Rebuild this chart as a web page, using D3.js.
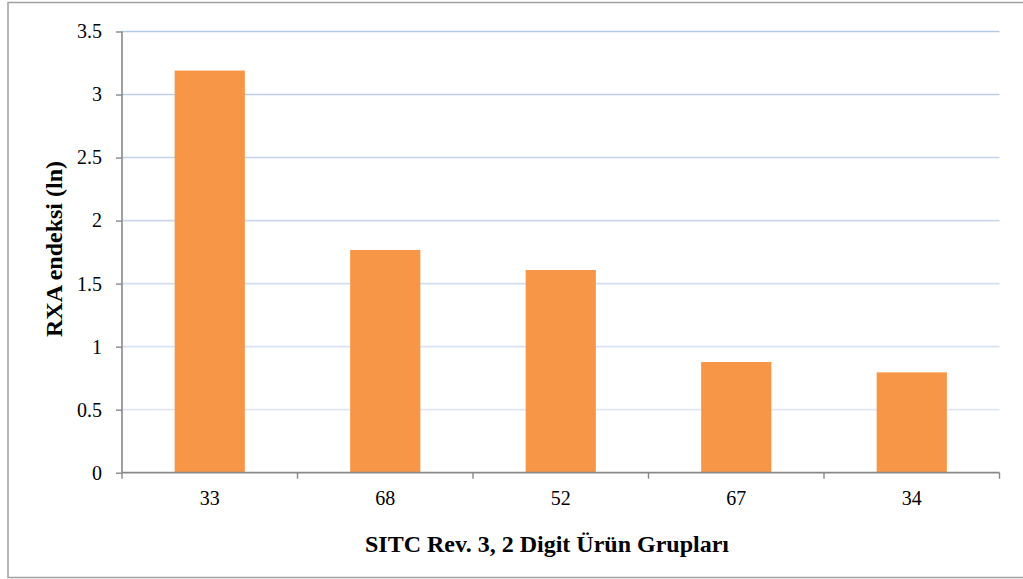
<!DOCTYPE html>
<html>
<head>
<meta charset="utf-8">
<script src="https://cdn.jsdelivr.net/npm/d3@7"></script>
<style>
  html, body { margin: 0; padding: 0; background: #fff; }
  svg { display: block; }
  text { font-family: "Liberation Serif", "Times New Roman", serif; fill: #000; }
</style>
</head>
<body>
<script>
const categories = ["33", "68", "52", "67", "34"];
const values = [3.19, 1.767, 1.608, 0.878, 0.796];
const yTicks = [0, 0.5, 1, 1.5, 2, 2.5, 3, 3.5];
const yTickLabels = ["0", "0.5", "1", "1.5", "2", "2.5", "3", "3.5"];
const xTitle = "SITC Rev. 3, 2 Digit Ürün Grupları";
const yTitle = "RXA endeksi (ln)";

const W = 1023, H = 579;
const svg = d3.select("body").append("svg").attr("width", W).attr("height", H);

// outer border
svg.append("rect").attr("x", 8).attr("y", 2.5).attr("width", 1030).attr("height", 575)
  .attr("fill", "none").attr("stroke", "#a0a0a0").attr("stroke-width", 1.5);

const x0 = 122, x1 = 999.5, yBot = 472.7, yTop = 31.5;
const x = d3.scaleBand().domain(categories).range([x0, x1]).paddingInner(0.6).paddingOuter(0.3);
const y = d3.scaleLinear().domain([0, 3.5]).range([yBot, yTop]);
const gridColor = d3.scaleLinear().domain([0.5, 3.5]).range(["#dfe7f5", "#b6c9e6"]);

// gridlines
svg.append("g").selectAll("line").data(yTicks.filter(d => d > 0)).join("line")
  .attr("x1", x0).attr("x2", x1)
  .attr("y1", d => y(d)).attr("y2", d => y(d))
  .attr("stroke", d => gridColor(d)).attr("stroke-width", 1.6);

// bars
svg.append("g").selectAll("rect").data(categories).join("rect")
  .attr("x", (d) => x(d)).attr("width", x.bandwidth())
  .attr("y", (d, i) => y(values[i])).attr("height", (d, i) => yBot - y(values[i]))
  .attr("fill", "#f79646");

// y axis
const yAxis = d3.axisLeft(y).tickValues(yTicks)
  .tickFormat((d, i) => yTickLabels[i]).tickSize(6).tickPadding(14);
const gy = svg.append("g").attr("transform", `translate(${x0},0)`).call(yAxis);
gy.select(".domain").attr("stroke", "#888").attr("stroke-width", 1.6).attr("d", `M0,${yBot}V${yTop}`);
gy.selectAll(".tick line").attr("stroke", "#888").attr("stroke-width", 1.4);
gy.selectAll(".tick text").style("font-family", "Liberation Serif").style("font-size", "20px").attr("fill", "#000");

// x axis (ticks at category boundaries)
const bounds = categories.map(c => x(c) - x.step() * x.paddingInner() / 2).concat([x1]);
bounds[0] = x0;
const gx = svg.append("g");
gx.append("line").attr("x1", x0).attr("x2", x1).attr("y1", yBot).attr("y2", yBot)
  .attr("stroke", "#888").attr("stroke-width", 1.8);
gx.selectAll("line.t").data(bounds).join("line").attr("class", "t")
  .attr("x1", d => d).attr("x2", d => d).attr("y1", yBot).attr("y2", yBot + 6)
  .attr("stroke", "#888").attr("stroke-width", 1.4);
gx.selectAll("text").data(categories).join("text")
  .attr("x", d => x(d) + x.bandwidth() / 2).attr("y", 505)
  .attr("text-anchor", "middle").style("font-size", "20px").text(d => d);

// titles
svg.append("text").attr("x", 547).attr("y", 551.5).attr("text-anchor", "middle")
  .style("font-size", "24px").style("font-weight", "bold").text(xTitle);
svg.append("text").attr("transform", "translate(62,249) rotate(-90)").attr("text-anchor", "middle")
  .style("font-size", "24px").style("font-weight", "bold").text(yTitle);
</script>
</body>
</html>
